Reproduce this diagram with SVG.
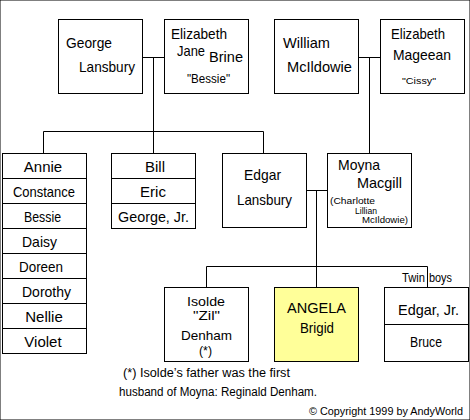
<svg xmlns="http://www.w3.org/2000/svg" width="470" height="420" viewBox="0 0 470 420">
<style>
rect{fill:#fff;stroke:#000;stroke-width:1}
.hl{fill:#ffff99}
line,path{stroke:#000;stroke-width:1;fill:none}
text{font-family:"Liberation Sans",Arial,sans-serif;font-size:15px;fill:#000}
.m{font-size:13px}
.s{font-size:12px}
.xs{font-size:9px}
.c{text-anchor:middle}
.cp{font-size:11px}
</style>
<rect width="470" height="420" fill="#fff" stroke="none"/>
<g id="connectors">
<path d="M142.5 57.5H164.5M153.5 57.5V131.5M43.5 131.5H263.5M43.5 131.5V153.5M153.5 131.5V153.5M263.5 131.5V153.5"/>
<path d="M358.5 57.5H380.5M369.5 57.5V153.5"/>
<path d="M306.5 190.5H327.5M316.5 190.5V266.5M206.5 266.5H427.5M206.5 266.5V287.5M316.5 266.5V287.5M427.5 266.5V287.5"/>
</g>
<g id="george">
<rect x="58.5" y="19.5" width="84" height="74"/>
<text x="66" y="48" textLength="46" lengthAdjust="spacingAndGlyphs">George</text>
<text x="79" y="72" textLength="56" lengthAdjust="spacingAndGlyphs">Lansbury</text>
</g>
<g id="elizabeth-brine">
<rect x="164.5" y="19.5" width="84" height="74"/>
<text x="171" y="39" textLength="56" lengthAdjust="spacingAndGlyphs">Elizabeth</text>
<text x="177" y="56" textLength="28" lengthAdjust="spacingAndGlyphs">Jane</text>
<text x="209" y="62" textLength="34" lengthAdjust="spacingAndGlyphs">Brine</text>
<text class="s" x="187" y="83" textLength="43" lengthAdjust="spacingAndGlyphs">"Bessie"</text>
</g>
<g id="william">
<rect x="274.5" y="19.5" width="84" height="74"/>
<text x="283" y="48" textLength="47" lengthAdjust="spacingAndGlyphs">William</text>
<text x="287" y="72" textLength="65" lengthAdjust="spacingAndGlyphs">McIldowie</text>
</g>
<g id="elizabeth-mageean">
<rect x="380.5" y="19.5" width="84" height="74"/>
<text x="391" y="39" textLength="54" lengthAdjust="spacingAndGlyphs">Elizabeth</text>
<text x="393" y="60" textLength="58" lengthAdjust="spacingAndGlyphs">Mageean</text>
<text class="xs" x="402" y="84" textLength="34" lengthAdjust="spacingAndGlyphs">"Cissy"</text>
</g>
<g id="daughters">
<rect x="2.5" y="153.5" width="84" height="200"/>
<path d="M2.5 178.5H86.5M2.5 203.5H86.5M2.5 228.5H86.5M2.5 253.5H86.5M2.5 278.5H86.5M2.5 303.5H86.5M2.5 328.5H86.5"/>
<text class="c" x="43" y="172">Annie</text>
<text x="13" y="197" textLength="62" lengthAdjust="spacingAndGlyphs">Constance</text>
<text x="24" y="222" textLength="37" lengthAdjust="spacingAndGlyphs">Bessie</text>
<text x="22" y="247" textLength="35" lengthAdjust="spacingAndGlyphs">Daisy</text>
<text x="19" y="272" textLength="44" lengthAdjust="spacingAndGlyphs">Doreen</text>
<text x="22" y="297" textLength="49" lengthAdjust="spacingAndGlyphs">Dorothy</text>
<text class="c" x="44" y="322">Nellie</text>
<text class="c" x="43" y="347">Violet</text>
</g>
<g id="sons">
<rect x="111.5" y="153.5" width="84" height="75"/>
<path d="M111.5 178.5H195.5M111.5 203.5H195.5"/>
<text class="c" x="155" y="172">Bill</text>
<text class="c" x="153" y="197">Eric</text>
<text x="118" y="222" textLength="71" lengthAdjust="spacingAndGlyphs">George, Jr.</text>
</g>
<g id="edgar">
<rect x="222.5" y="153.5" width="84" height="74"/>
<text x="244" y="180" textLength="37" lengthAdjust="spacingAndGlyphs">Edgar</text>
<text x="237" y="205" textLength="55" lengthAdjust="spacingAndGlyphs">Lansbury</text>
</g>
<g id="moyna">
<rect x="327.5" y="153.5" width="84" height="74"/>
<text x="338" y="170" textLength="42" lengthAdjust="spacingAndGlyphs">Moyna</text>
<text x="357" y="188" textLength="45" lengthAdjust="spacingAndGlyphs">Macgill</text>
<text class="xs" x="330" y="204" textLength="45" lengthAdjust="spacingAndGlyphs">(Charlotte</text>
<text class="xs" x="355" y="213.5" textLength="22" lengthAdjust="spacingAndGlyphs">Lillian</text>
<text class="xs" x="362" y="223" textLength="46" lengthAdjust="spacingAndGlyphs">McIldowie)</text>
</g>
<g id="isolde">
<rect x="164.5" y="287.5" width="84" height="74"/>
<text class="m" x="187" y="306" textLength="38" lengthAdjust="spacingAndGlyphs">Isolde</text>
<text class="m" x="193" y="320" textLength="27" lengthAdjust="spacingAndGlyphs">"Zil"</text>
<text class="m" x="181" y="340" textLength="51" lengthAdjust="spacingAndGlyphs">Denham</text>
<text class="m" x="199" y="355" textLength="13" lengthAdjust="spacingAndGlyphs">(*)</text>
</g>
<g id="angela">
<rect class="hl" x="274.5" y="287.5" width="84" height="74"/>
<text x="287" y="313" textLength="59" lengthAdjust="spacingAndGlyphs">ANGELA</text>
<text x="300" y="333" textLength="34" lengthAdjust="spacingAndGlyphs">Brigid</text>
</g>
<g id="twins">
<rect x="384.5" y="287.5" width="84" height="74"/>
<path d="M384.5 324.5H468.5"/>
<text x="398" y="315" textLength="61" lengthAdjust="spacingAndGlyphs">Edgar, Jr.</text>
<text x="410" y="347" textLength="32" lengthAdjust="spacingAndGlyphs">Bruce</text>
<text class="s" x="402" y="282" textLength="23" lengthAdjust="spacingAndGlyphs">Twin</text>
<text class="s" x="429" y="282" textLength="23" lengthAdjust="spacingAndGlyphs">boys</text>
</g>
<g id="notes">
<text class="s" x="123" y="377" textLength="167" lengthAdjust="spacingAndGlyphs">(*) Isolde’s father was the first</text>
<text class="s" x="119" y="396" textLength="198" lengthAdjust="spacingAndGlyphs">husband of Moyna: Reginald Denham.</text>
<text class="cp" x="309" y="415" textLength="154" lengthAdjust="spacingAndGlyphs">© Copyright 1999 by AndyWorld</text>
</g>
</svg>
